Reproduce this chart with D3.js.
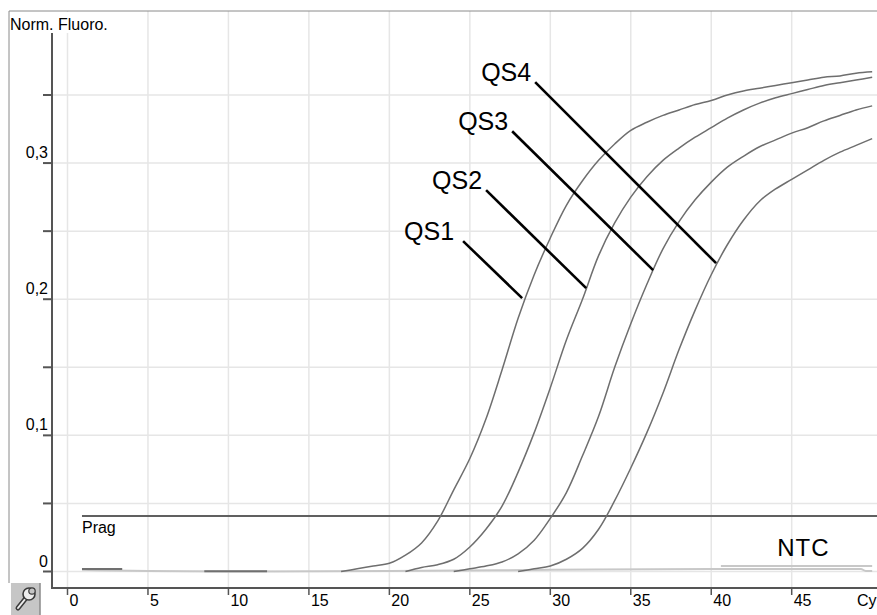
<!DOCTYPE html>
<html>
<head>
<meta charset="utf-8">
<script src="https://cdn.jsdelivr.net/npm/d3@7"></script>
<style>
  html, body { margin: 0; padding: 0; background: #fff; overflow: hidden; }
  svg { display: block; font-family: "Liberation Sans", Arial, sans-serif; }
</style>
</head>
<body>
<svg id="chart" width="877" height="615"></svg>
<script>
// ---------- data ----------
const xTicks = [0, 5, 10, 15, 20, 25, 30, 35, 40, 45];
const yMajorTicks = [0, 0.1, 0.2, 0.3];
const yMajorLabels = ["0", "0,1", "0,2", "0,3"];
const yMinorTicks = [0.05, 0.15, 0.25, 0.35];
const yTitle = "Norm. Fluoro.";
const xTitle = "Cy";

// amplification curves: first cycle + value per cycle
const qs1Start = 17;
const qs1 = [0.000,0.002,0.004,0.006,0.012,0.021,0.037,0.060,0.083,0.112,
             0.148,0.186,0.218,0.245,0.269,0.287,0.302,0.314,0.324,0.330,
             0.335,0.339,0.343,0.346,0.350,0.353,0.355,0.357,0.359,0.361,
             0.363,0.364,0.366,0.367];
const qs2Start = 21;
const qs2 = [0.000,0.003,0.005,0.009,0.018,0.031,0.048,0.073,0.102,0.135,
             0.170,0.200,0.232,0.256,0.275,0.290,0.302,0.311,0.319,0.326,
             0.333,0.339,0.344,0.348,0.351,0.354,0.357,0.359,0.361,0.363];
const qs3Start = 24;
const qs3 = [0.000,0.002,0.004,0.007,0.013,0.023,0.039,0.058,0.085,0.114,
             0.150,0.182,0.211,0.237,0.257,0.273,0.286,0.297,0.305,0.312,
             0.317,0.322,0.326,0.331,0.335,0.339,0.342];
const qs4Start = 28;
const qs4 = [0.000,0.002,0.004,0.009,0.017,0.031,0.052,0.076,0.102,0.131,
             0.163,0.192,0.218,0.240,0.258,0.272,0.281,0.288,0.295,0.302,
             0.308,0.313,0.318];

// NTC / flat baselines: [cycle, value]
const ntcA = [[0.9,0.0012],[5,0.0004],[10,0.0],[20,0.0004],[30,0.0012],[40,0.0018],[49.3,0.0018],[49.6,0.0004],[50,0.0004]];
const ntcB = [[40.6,0.0040],[50,0.0040]];
const flatDark1 = [[0.9,0.0018],[3.4,0.0018]];
const flatDark2 = [[8.5,0.0002],[12.4,0.0002]];

// threshold
const thresholdValue = 0.0407;
const thresholdStart = 0.9;
const thresholdLabel = "Prag";

// labels with leader lines: [label, startCycle, startValue, endCycle, endValue]
const leaders = [
  ["QS1", 24.58, 0.2427, 28.25, 0.2008],
  ["QS2", 26.01, 0.2801, 32.23, 0.2081],
  ["QS3", 27.63, 0.3234, 36.39, 0.2214],
  ["QS4", 29.06, 0.3594, 40.30, 0.2265]
];
const ntcLabel = ["NTC", 44.1, 0.0114];

// ---------- drawing ----------
const svg = d3.select("#chart");
const W = 877, H = 615;

const x = d3.scaleLinear().domain([0, 50.3]).range([67.5, 877]);
const y = d3.scaleLinear().domain([0, 0.35]).range([571.5, 95]);

const axisX = 52, axisY = 588, frameTop = 11, frameLeft = 9;

// grid
const grid = svg.append("g");
grid.selectAll("line.vg").data(xTicks).join("line")
  .attr("x1", d => x(d)).attr("x2", d => x(d))
  .attr("y1", frameTop).attr("y2", axisY)
  .attr("stroke", "#e6e6e6").attr("stroke-width", 1.5);
grid.selectAll("line.hg").data(yMajorTicks.concat(yMinorTicks)).join("line")
  .attr("x1", axisX).attr("x2", W)
  .attr("y1", d => y(d)).attr("y2", d => y(d))
  .attr("stroke", "#e6e6e6").attr("stroke-width", 1.5);

// frame
svg.append("line").attr("x1", frameLeft).attr("x2", W).attr("y1", frameTop).attr("y2", frameTop)
  .attr("stroke", "#8a8a8a").attr("stroke-width", 1);
svg.append("line").attr("x1", frameLeft).attr("x2", frameLeft).attr("y1", frameTop).attr("y2", 583)
  .attr("stroke", "#8a8a8a").attr("stroke-width", 1);

// y title with white background
svg.append("rect").attr("x", frameLeft + 1).attr("y", frameTop + 1).attr("width", 100).attr("height", 21).attr("fill", "#fff");
svg.append("text").attr("x", 10).attr("y", 30).attr("font-size", 16).attr("fill", "#000").text(yTitle);

// flat baselines
const line = d3.line().x(d => x(d[0])).y(d => y(d[1])).curve(d3.curveMonotoneX);
const smooth = d3.line().x(d => x(d[0])).y(d => y(d[1])).curve(d3.curveCatmullRom.alpha(0.5));
[ntcA, ntcB].forEach(s => {
  svg.append("path").attr("d", line(s)).attr("fill", "none")
    .attr("stroke", "#c8c8c8").attr("stroke-width", 2);
});
[flatDark1, flatDark2].forEach(s => {
  svg.append("path").attr("d", line(s)).attr("fill", "none")
    .attr("stroke", "#707070").attr("stroke-width", 2);
});

// threshold
svg.append("line").attr("x1", x(thresholdStart)).attr("x2", W)
  .attr("y1", y(thresholdValue)).attr("y2", y(thresholdValue))
  .attr("stroke", "#606060").attr("stroke-width", 2);
svg.append("text").attr("x", x(thresholdStart)).attr("y", y(thresholdValue) + 17)
  .attr("font-size", 16).attr("fill", "#000").text(thresholdLabel);

// curves
const curves = [[qs1Start, qs1], [qs2Start, qs2], [qs3Start, qs3], [qs4Start, qs4]];
curves.forEach(([s, vals]) => {
  const pts = vals.map((v, i) => [s + i, v]);
  svg.append("path").attr("d", smooth(pts)).attr("fill", "none")
    .attr("stroke", "#6e6e6e").attr("stroke-width", 1.5);
});

// leaders
leaders.forEach(([lab, c0, v0, c1, v1]) => {
  svg.append("line").attr("x1", x(c0)).attr("y1", y(v0)).attr("x2", x(c1)).attr("y2", y(v1))
    .attr("stroke", "#000").attr("stroke-width", 2.6);
  svg.append("text").attr("x", x(c0) - (lab === "QS1" ? 9 : 4)).attr("y", y(v0) - 1)
    .attr("text-anchor", "end").attr("font-size", 25).attr("fill", "#000").text(lab);
});
svg.append("text").attr("x", x(ntcLabel[1])).attr("y", y(ntcLabel[2]))
  .attr("font-size", 24).attr("letter-spacing", 1).attr("fill", "#000").text(ntcLabel[0]);

// y axis
svg.append("line").attr("x1", axisX).attr("x2", axisX).attr("y1", 33).attr("y2", axisY + 1)
  .attr("stroke", "#555").attr("stroke-width", 2);
svg.selectAll("line.yt").data(yMajorTicks.concat(yMinorTicks)).join("line")
  .attr("x1", 43).attr("x2", axisX).attr("y1", d => y(d)).attr("y2", d => y(d))
  .attr("stroke", "#555").attr("stroke-width", 2);
svg.selectAll("text.yl").data(yMajorTicks).join("text")
  .attr("x", 48).attr("y", d => y(d) - 5).attr("text-anchor", "end")
  .attr("font-size", 16).attr("fill", "#000").text((d, i) => yMajorLabels[i]);

// x axis
svg.append("line").attr("x1", axisX - 1).attr("x2", W).attr("y1", axisY).attr("y2", axisY)
  .attr("stroke", "#555").attr("stroke-width", 2);
svg.selectAll("line.xt").data(xTicks).join("line")
  .attr("x1", d => x(d)).attr("x2", d => x(d)).attr("y1", axisY).attr("y2", axisY + 7)
  .attr("stroke", "#555").attr("stroke-width", 1.5);
svg.selectAll("text.xl").data(xTicks).join("text")
  .attr("x", d => x(d) + 2).attr("y", 606)
  .attr("font-size", 16).attr("fill", "#000").text(d => d);
svg.append("text").attr("x", 857).attr("y", 606).attr("font-size", 16).attr("fill", "#000").text(xTitle);

// wrench button
const btn = svg.append("g").attr("transform", "translate(11,583)");
btn.append("rect").attr("width", 29).attr("height", 32).attr("fill", "#c6c6c6");
btn.append("line").attr("x1", 29).attr("x2", 29).attr("y1", 0).attr("y2", 32).attr("stroke", "#8a8a8a").attr("stroke-width", 1.5);
btn.append("line").attr("x1", 7).attr("y1", 25).attr("x2", 15).attr("y2", 15)
  .attr("stroke", "#3a3a3a").attr("stroke-width", 5).attr("stroke-linecap", "round");
btn.append("line").attr("x1", 7).attr("y1", 25).attr("x2", 15).attr("y2", 15)
  .attr("stroke", "#eee").attr("stroke-width", 2).attr("stroke-linecap", "round");
btn.append("circle").attr("cx", 18).attr("cy", 11).attr("r", 6).attr("fill", "#eee").attr("stroke", "#3a3a3a").attr("stroke-width", 1.6);
btn.append("circle").attr("cx", 21).attr("cy", 8).attr("r", 3.2).attr("fill", "#c6c6c6").attr("stroke", "#3a3a3a").attr("stroke-width", 1.2);
</script>
</body>
</html>
